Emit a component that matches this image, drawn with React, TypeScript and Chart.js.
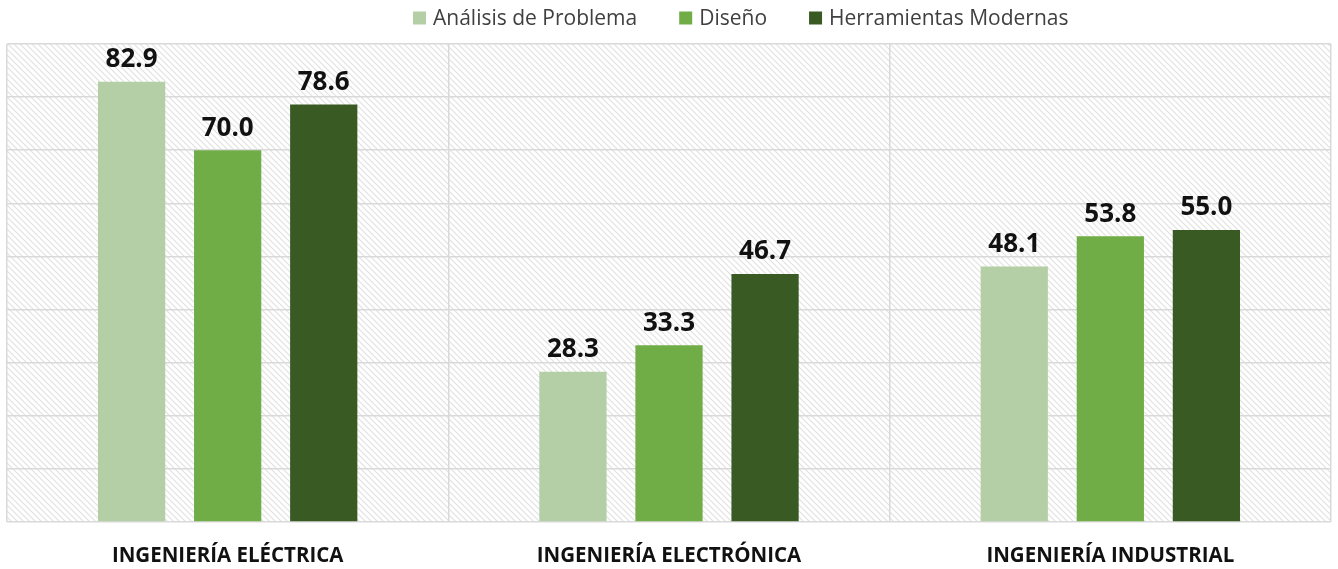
import React, { useEffect, useRef } from "react";
import { Chart, registerables } from "chart.js";

Chart.register(...registerables);

const categories = ["INGENIERÍA ELÉCTRICA", "INGENIERÍA ELECTRÓNICA", "INGENIERÍA INDUSTRIAL"];
const seriesNames = ["Análisis de Problema", "Diseño", "Herramientas Modernas"];
const analisis = [82.9, 28.3, 48.1];
const diseno = [70.0, 33.3, 53.8];
const herramientas = [78.6, 46.7, 55.0];
const colors = ["#B4CFA6", "#70AD47", "#3A5A24"];

function makeHatch(): CanvasPattern | string {
  const c = document.createElement("canvas");
  c.width = 6;
  c.height = 6;
  const ctx = c.getContext("2d");
  if (!ctx) return "#fff";
  ctx.fillStyle = "#ffffff";
  ctx.fillRect(0, 0, 6, 6);
  ctx.strokeStyle = "#e0e0e0";
  ctx.lineWidth = 1.1;
  ctx.beginPath();
  ctx.moveTo(-1, -1);
  ctx.lineTo(7, 7);
  ctx.moveTo(-1, 5);
  ctx.lineTo(1, 7);
  ctx.moveTo(5, -1);
  ctx.lineTo(7, 1);
  ctx.stroke();
  const p = ctx.createPattern(c, "repeat");
  return p || "#fff";
}

export default function App() {
  const ref = useRef<HTMLCanvasElement>(null);
  useEffect(() => {
    document.body.style.margin = "0";
    if (!ref.current) return;
    const hatch = makeHatch();
    const bgPlugin = {
      id: "hatchBg",
      beforeDraw(chart: any) {
        const { ctx, chartArea } = chart;
        ctx.save();
        ctx.fillStyle = hatch;
        ctx.fillRect(chartArea.left, chartArea.top, chartArea.right - chartArea.left, chartArea.bottom - chartArea.top);
        ctx.restore();
      },
    };
    const legendPlugin = {
      id: "customLegend",
      afterDraw(chart: any) {
        const { ctx } = chart;
        ctx.save();
        ctx.font = "21px 'Open Sans'";
        ctx.textBaseline = "middle";
        ctx.textAlign = "left";
        const box = 13;
        const gapBoxText = 7;
        const gapItems = 42;
        const widths = seriesNames.map((n) => ctx.measureText(n).width);
        let x = 413;
        const y = 18;
        seriesNames.forEach((n, i) => {
          ctx.fillStyle = colors[i];
          ctx.fillRect(x, y - box / 2, box, box);
          x += box + gapBoxText;
          ctx.fillStyle = "#404040";
          ctx.fillText(n, x, y + 1);
          x += widths[i] + gapItems;
        });
        ctx.restore();
      },
    };
    const labelPlugin = {
      id: "valueLabels",
      afterDatasetsDraw(chart: any) {
        const { ctx } = chart;
        ctx.save();
        ctx.font = "bold 26px 'Open Sans'";
        ctx.fillStyle = "#111111";
        ctx.textAlign = "center";
        ctx.textBaseline = "bottom";
        chart.data.datasets.forEach((ds: any, i: number) => {
          const meta = chart.getDatasetMeta(i);
          meta.data.forEach((bar: any, j: number) => {
            ctx.fillText(Number(ds.data[j]).toFixed(1), bar.x, bar.y - 9);
          });
        });
        ctx.restore();
      },
    };
    const chart = new Chart(ref.current, {
      type: "bar",
      data: {
        labels: categories,
        datasets: [
          { label: seriesNames[0], data: analisis, backgroundColor: colors[0] },
          { label: seriesNames[1], data: diseno, backgroundColor: colors[1] },
          { label: seriesNames[2], data: herramientas, backgroundColor: colors[2] },
        ],
      },
      options: {
        animation: false,
        responsive: false,
        maintainAspectRatio: false,
        datasets: { bar: { barPercentage: 0.7, categoryPercentage: 0.653 } },
        layout: { padding: { left: 7, right: 7, top: 44, bottom: 0 } },
        plugins: {
          legend: { display: false },
          tooltip: { enabled: false },
        },
        scales: {
          x: {
            afterFit(scale: any) {
              scale.height = 47;
            },
            grid: { display: true, color: "#d9d9d9", lineWidth: 1.5, offset: true, drawTicks: false },
            border: { display: false },
            ticks: {
              color: "#111111",
              padding: 22,
              maxRotation: 0,
              font: { family: "'Open Sans'", size: 20.5, weight: "bold" },
            },
          },
          y: {
            min: 0,
            max: 90,
            ticks: { display: false, stepSize: 10 },
            grid: { color: "#d9d9d9", lineWidth: 1.5, drawTicks: false },
            border: { display: false },
          },
        },
      },
      plugins: [bgPlugin, labelPlugin, legendPlugin],
    } as any);
    return () => chart.destroy();
  }, []);
  return (
    <div style={{ width: 1338, height: 569 }}>
      <canvas ref={ref} width={1338} height={569} />
    </div>
  );
}
